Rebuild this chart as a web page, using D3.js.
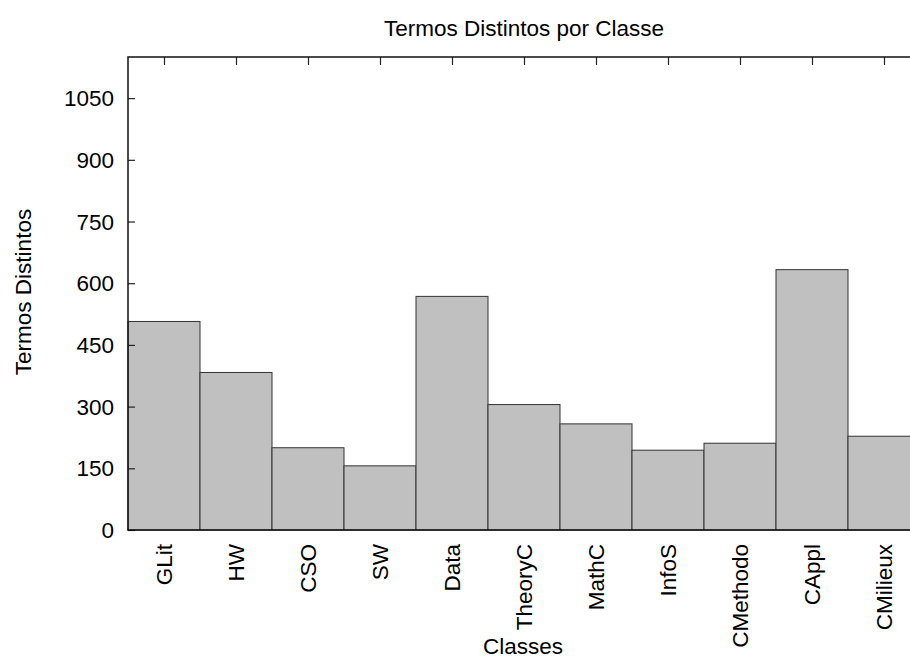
<!DOCTYPE html>
<html>
<head>
<meta charset="utf-8">
<script src="https://cdn.jsdelivr.net/npm/d3@7"></script>
<style>
  html, body { margin: 0; padding: 0; background: #fff; }
  svg { display: block; font-family: "Liberation Sans", Arial, sans-serif; }
</style>
</head>
<body>
<svg id="chart" width="910" height="659"></svg>
<script>
const categories = ["GLit", "HW", "CSO", "SW", "Data", "TheoryC", "MathC", "InfoS", "CMethodo", "CAppl", "CMilieux"];
const values = [507, 383, 200, 156, 568, 305, 258, 194, 211, 633, 228];
const yTicks = [0, 150, 300, 450, 600, 750, 900, 1050];
const titleText = "Termos Distintos por Classe";
const xLabelText = "Classes";
const yLabelText = "Termos Distintos";

(function () {
const svg = d3.select("#chart");
const pLeft = 128, pTop = 57, pBottom = 530;
const step = 72;
const pRight = pLeft + step * categories.length;

const x = d3.scaleLinear().domain([-0.5, categories.length - 0.5]).range([pLeft, pRight]);
const y = d3.scaleLinear().domain([0, 1150]).range([pBottom, pTop]);

const fs = 22.5;

// bars
svg.append("g").selectAll("rect").data(values).join("rect")
  .attr("x", (d, i) => x(i - 0.5))
  .attr("width", (d, i) => x(i + 0.5) - x(i - 0.5))
  .attr("y", d => y(d))
  .attr("height", d => y(0) - y(d))
  .attr("fill", "#c0c0c0")
  .attr("stroke", "#333")
  .attr("stroke-width", 1);

// left axis ticks (inward)
const yAxis = d3.axisRight(y).tickValues(yTicks).tickSize(7).tickFormat("");
const gy = svg.append("g").attr("transform", `translate(${pLeft},0)`).call(yAxis);
gy.select(".domain").remove();
gy.selectAll("line").attr("stroke", "#222").attr("stroke-width", 1.2);

// y tick labels
svg.append("g").selectAll("text").data(yTicks).join("text")
  .attr("x", pLeft - 14)
  .attr("y", d => y(d))
  .attr("dy", "0.36em")
  .attr("text-anchor", "end")
  .attr("font-size", fs)
  .attr("fill", "#000")
  .text(d => d);

// top mirror ticks
const xTop = d3.axisBottom(x).tickValues(d3.range(categories.length)).tickSize(8).tickFormat("");
const gt = svg.append("g").attr("transform", `translate(0,${pTop})`).call(xTop);
gt.select(".domain").remove();
gt.selectAll("line").attr("stroke", "#222").attr("stroke-width", 1.2);

// border
svg.append("path")
  .attr("d", `M${pRight},${pTop}H${pLeft}V${pBottom}H${pRight}`)
  .attr("fill", "none")
  .attr("stroke", "#111")
  .attr("stroke-width", 1.5);

// x tick labels rotated
svg.append("g").selectAll("text").data(categories).join("text")
  .attr("transform", (d, i) => `translate(${x(i)},${pBottom + 14}) rotate(-90)`)
  .attr("dy", "0.36em")
  .attr("text-anchor", "end")
  .attr("font-size", fs)
  .attr("fill", "#000")
  .text(d => d);

// title
svg.append("text")
  .attr("x", 524).attr("y", 35.5)
  .attr("text-anchor", "middle")
  .attr("font-size", fs)
  .text(titleText);

// x label
svg.append("text")
  .attr("x", 523).attr("y", 654)
  .attr("text-anchor", "middle")
  .attr("font-size", fs)
  .text(xLabelText);

// y label
svg.append("text")
  .attr("transform", `translate(31,292) rotate(-90)`)
  .attr("text-anchor", "middle")
  .attr("font-size", fs)
  .text(yLabelText);
})();
</script>
</body>
</html>
